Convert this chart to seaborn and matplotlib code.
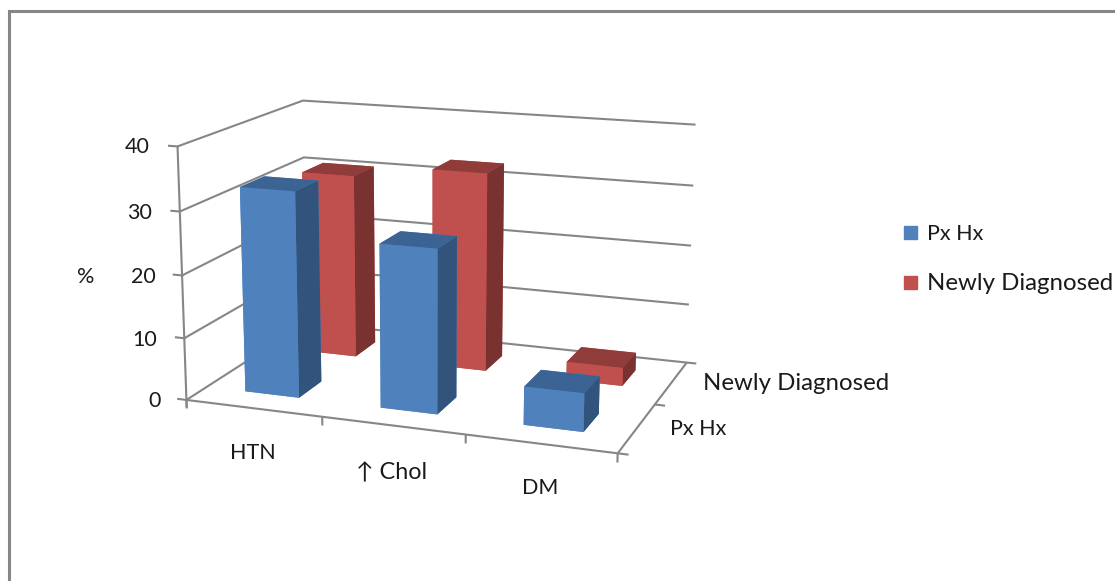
import numpy as np
import matplotlib
matplotlib.use('Agg')
import matplotlib.pyplot as plt
from matplotlib.lines import Line2D
from matplotlib.patches import Patch
import seaborn as sns

categories = ['HTN', '↑ Chol', 'DM']
series_names = ['Px Hx', 'Newly Diagnosed']
px_hx = [32.9, 25.9, 6.0]
newly_diagnosed = [30.8, 32.9, 3.0]
z_ticks = [0, 10, 20, 30, 40]

blue = ['#4F81BD', '#3B6494', '#31537C']  # front, top, side
red = ['#C0504D', '#8F3C3A', '#7A3230']
grey = '#868686'

sns.set_theme(style='white')
plt.rcParams['font.family'] = ['Lato', 'DejaVu Sans']

W, H = 1115, 581
fig = plt.figure(figsize=(W / 100, H / 100), dpi=100)
S = 700.0
ax = fig.add_axes([(435.72 - S / 2) / W, 1 - (269.48 + S / 2) / H, S / W, S / H], projection='3d')
ax.set_xlim(0, 3)
ax.set_ylim(0, 2)
ax.set_zlim(0, 40)
ax.set_box_aspect((1, 0.6646, 0.5806), zoom=0.8066)
ax.view_init(elev=14.25, azim=-70.26, roll=-0.12)
ax.set_proj_type('persp', focal_length=0.4745)
ax.set_axis_off()
ax.computed_zorder = False
ax.patch.set_alpha(0)

line = dict(color=grey, lw=1.5, zorder=1, solid_capstyle='butt')
# walls
for z in z_ticks:
    ax.plot([0, 0, 3], [0, 2, 2], [z, z, z], **line)
    ax.plot([-0.07, 0.01], [0, 0], [z, z], **line)
# axes on the floor
ax.plot([0, 0], [0, 0], [-1.2, 40], **line)
ax.plot([0, 3], [0, 0], [0, 0], **line)
ax.plot([3, 3], [0, 2], [0, 0], **line)
for i in range(4):
    ax.plot([i, i], [0, 0], [0, -1.4], **line)
for j in range(3):
    ax.plot([3, 3.07], [j, j], [0, 0], **line)


def draw_row(values, y_start, cols, zorder):
    for i, v in enumerate(values):
        # bottom, top, front, back, left, right
        face = [cols[0], cols[1], cols[0], cols[0], cols[0], cols[2]]
        b = ax.bar3d(i + 0.293, y_start, 0, 0.403, 0.379, v, color=face, shade=False, zorder=zorder)
        b.set_edgecolor('none')


draw_row(newly_diagnosed, 1.313, red, 2)
draw_row(px_hx, 0.305, blue, 3)

# chart frame
fig.add_artist(Line2D([8.5 / W, 8.5 / W, 1], [0, 1 - 10.5 / H, 1 - 10.5 / H], color=grey, lw=2.2,
                      solid_joinstyle='miter'))

fs = 15.5
wide = 17.3  # Calibri's lower case runs wider than Lato's
txt = dict(color='#1a1a1a', ha='center', va='center')
for label, (x, y), size in zip(categories, [(253, 453), (392, 473), (540, 488)], [fs, 16.8, fs]):
    fig.text(x / W, 1 - y / H, label, fontsize=size, **txt)
for label, (x, y) in zip(z_ticks, [(155, 401), (145, 340), (143, 277), (140, 213), (137, 147)]):
    fig.text(x / W, 1 - y / H, str(label), fontsize=fs, **txt)
fig.text(86 / W, 1 - 277 / H, '%', fontsize=fs, **txt)
for label, (x, y), size in zip(series_names, [(698, 429), (796, 383)], [fs, wide]):
    fig.text(x / W, 1 - y / H, label, fontsize=size, **txt)

handles = [Patch(color=blue[0], label=series_names[0]), Patch(color=red[0], label=series_names[1])]
leg = fig.legend(handles=handles, loc='center left', bbox_to_anchor=(885 / W, 1 - 259 / H), frameon=False,
                 fontsize=fs, handlelength=0.6, handleheight=0.56, handletextpad=0.46, labelspacing=1.35,
                 labelcolor='#1a1a1a')
leg.get_texts()[1].set_fontsize(wide)

fig.savefig('out.png', dpi=100)
